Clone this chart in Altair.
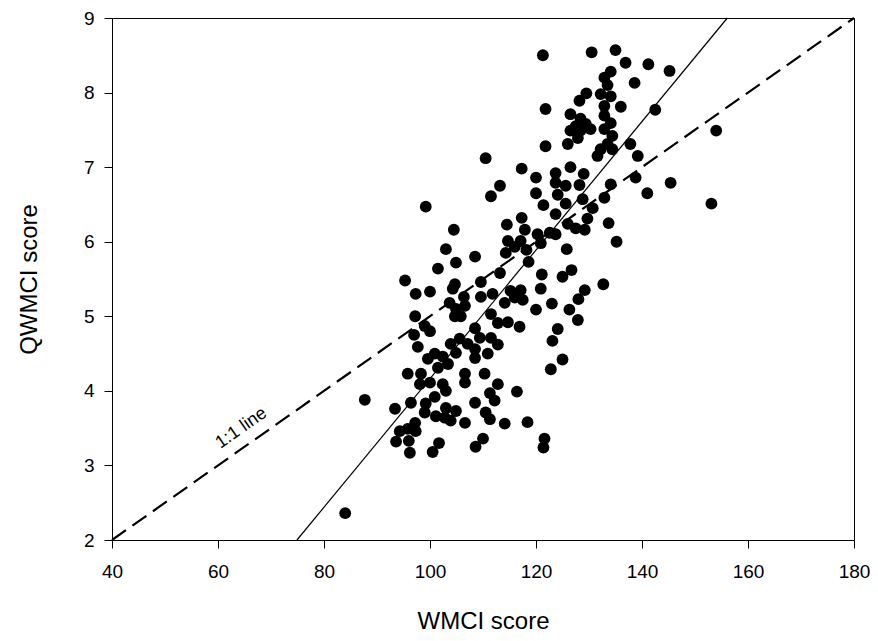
import altair as alt
import pandas as pd

# WMCI score (x) and QWMCI score (y)
wmci = [
    110.5, 111.5, 99.2, 104.5, 113.2, 117.3,
    103.0, 108.5, 104.9, 101.5, 95.3, 104.7, 104.3, 100.0, 97.3, 109.6, 109.6, 111.8, 106.4, 103.7,
    104.9, 106.6, 104.7, 105.8, 97.2, 111.5, 99.0, 100.0, 97.0, 108.5, 97.7, 105.6, 103.9, 107.1,
    109.4, 111.5, 110.9, 108.5, 104.9, 102.4, 100.9, 99.6, 108.5, 103.4, 101.5,
    120.0, 124.1, 121.4, 125.6, 128.8, 132.9, 141.0, 130.7, 123.7, 129.7, 117.3, 114.5, 117.9, 120.3,
    122.6, 126.0, 127.5, 129.2, 123.7, 133.7, 135.2, 114.7, 117.1, 120.9, 114.3, 116.0, 118.2, 118.6,
    125.8, 113.2, 121.1, 125.0, 126.7, 132.7, 120.9, 115.2, 117.1, 114.1, 116.0, 117.5, 129.2, 128.0,
    123.0, 120.0, 126.3, 127.9, 114.7, 116.9, 112.8, 124.1, 123.1, 125.0, 122.8, 112.8,
    121.3, 130.5, 135.0, 136.9, 141.2, 145.2, 134.1, 132.9, 133.5, 138.6, 129.5, 128.2, 132.2, 134.1,
    132.9, 136.0, 121.8, 126.5, 128.4, 129.4, 127.5, 126.5, 128.4, 130.3, 132.9, 134.1, 132.9, 134.4,
    127.9, 126.0, 133.5, 132.2, 134.4, 131.6, 121.8, 137.8, 139.2, 142.5, 120.0, 123.7, 126.5, 129.0,
    123.7, 125.6, 128.2, 134.1, 138.8, 145.4,
    154.0, 153.1,
    95.8, 98.3, 98.1, 100.0, 102.4, 103.0, 106.6, 106.6, 110.3, 112.8, 116.4, 111.3, 112.2, 108.5,
    87.7, 93.4, 96.4, 99.2, 100.9, 99.0, 101.1, 103.0, 104.9, 102.8, 103.9, 106.6, 110.5, 111.3,
    114.1, 118.4, 97.2, 94.3, 95.8, 97.3, 93.6, 96.0, 101.7, 100.5, 96.2, 110.0, 108.6, 84.0,
    121.6, 121.4,
]
qwmci = [
    7.12, 6.61, 6.47, 6.16, 6.75, 6.98,
    5.90, 5.80, 5.72, 5.64, 5.48, 5.43, 5.37, 5.33, 5.30, 5.46, 5.26, 5.30, 5.26, 5.18,
    5.10, 5.14, 5.00, 5.00, 5.00, 5.03, 4.87, 4.80, 4.75, 4.84, 4.59, 4.70, 4.63, 4.63,
    4.71, 4.71, 4.50, 4.56, 4.51, 4.46, 4.50, 4.43, 4.44, 4.36, 4.31,
    6.65, 6.63, 6.49, 6.51, 6.57, 6.59, 6.65, 6.45, 6.37, 6.31, 6.32, 6.23, 6.16, 6.10,
    6.12, 6.24, 6.18, 6.16, 6.10, 6.25, 6.00, 6.01, 6.01, 5.98, 5.85, 5.93, 5.89, 5.73,
    5.90, 5.58, 5.56, 5.53, 5.62, 5.43, 5.37, 5.34, 5.35, 5.18, 5.25, 5.22, 5.35, 5.23,
    5.17, 5.09, 5.09, 4.95, 4.92, 4.86, 4.91, 4.83, 4.67, 4.42, 4.29, 4.62,
    8.50, 8.54, 8.57, 8.40, 8.38, 8.29, 8.28, 8.20, 8.10, 8.13, 7.99, 7.89, 7.98, 7.95,
    7.82, 7.81, 7.78, 7.71, 7.65, 7.58, 7.55, 7.49, 7.49, 7.51, 7.69, 7.59, 7.51, 7.42,
    7.39, 7.31, 7.31, 7.24, 7.24, 7.15, 7.28, 7.31, 7.15, 7.77, 6.86, 6.92, 7.00, 6.91,
    6.79, 6.75, 6.76, 6.77, 6.86, 6.79,
    7.49, 6.51,
    4.23, 4.23, 4.09, 4.11, 4.09, 4.00, 4.23, 4.11, 4.23, 4.09, 3.99, 3.97, 3.87, 3.84,
    3.88, 3.76, 3.84, 3.83, 3.92, 3.71, 3.66, 3.77, 3.73, 3.64, 3.60, 3.57, 3.71, 3.62,
    3.56, 3.58, 3.57, 3.46, 3.49, 3.46, 3.32, 3.33, 3.30, 3.18, 3.17, 3.36, 3.25, 2.36,
    3.36, 3.24,
]

# Fitted regression line and 1:1 line end points
fit_x = [74.9, 156.1]
fit_y = [2.0, 9.0]
one_x = [40, 180]
one_y = [2, 9]
label_x = [64.4]
label_y = [3.50]
label_text = ["1:1 line"]

x_ticks = [40, 60, 80, 100, 120, 140, 160, 180]
y_ticks = [2, 3, 4, 5, 6, 7, 8, 9]

FONT = "Liberation Sans"

pts = pd.DataFrame({"wmci": wmci, "qwmci": qwmci})
fit = pd.DataFrame({"wmci": fit_x, "qwmci": fit_y})
one = pd.DataFrame({"wmci": one_x, "qwmci": one_y})
lab = pd.DataFrame({"wmci": label_x, "qwmci": label_y, "t": label_text})

x_enc = alt.X(
    "wmci:Q",
    scale=alt.Scale(domain=[40, 180], nice=False, zero=False),
    axis=alt.Axis(
        values=x_ticks, title="WMCI score", grid=False,
        domainColor="black", tickColor="black", tickSize=8, tickWidth=1,
        labelFont=FONT, labelFontSize=19, labelColor="black",
        labelBaseline="alphabetic", labelPadding=29, labelFlush=False, labelOverlap=False,
        titleFont=FONT, titleFontSize=24, titleFontWeight="normal", titleColor="black",
        titleX=371, titleY=88, titleAlign="center", titleBaseline="alphabetic",
    ),
)
y_enc = alt.Y(
    "qwmci:Q",
    scale=alt.Scale(domain=[2, 9], nice=False, zero=False),
    axis=alt.Axis(
        values=y_ticks, title="QWMCI score", grid=False,
        domainColor="black", tickColor="black", tickSize=8, tickWidth=1,
        labelFont=FONT, labelFontSize=19, labelColor="black",
        labelBaseline="middle", labelPadding=10, labelFlush=False, labelOverlap=False,
        titleFont=FONT, titleFontSize=24, titleFontWeight="normal", titleColor="black",
        titleX=-76, titleY=261, titleAlign="center", titleBaseline="alphabetic", titleAngle=270,
    ),
)

one_line = alt.Chart(one).mark_line(color="black", strokeWidth=2.2, strokeDash=[17, 8]).encode(
    x=x_enc, y=y_enc
)
fit_line = alt.Chart(fit).mark_line(color="black", strokeWidth=1.2).encode(x=x_enc, y=y_enc)
points = alt.Chart(pts).mark_circle(size=140, color="black", opacity=1).encode(x=x_enc, y=y_enc)
label = alt.Chart(lab).mark_text(
    angle=325, fontSize=18, font=FONT, color="black", align="center", baseline="middle"
).encode(x=x_enc, y=y_enc, text="t:N")

chart = (
    alt.layer(one_line, fit_line, points, label)
    .properties(
        width=742,
        height=522,
        autosize=alt.AutoSizeParams(type="none"),
        padding={"left": 104, "top": 10, "right": 16, "bottom": 93},
        background="white",
    )
    .configure_view(stroke="black", strokeWidth=1)
)

chart.save("out.html", embed_options={"renderer": "svg", "actions": False})
